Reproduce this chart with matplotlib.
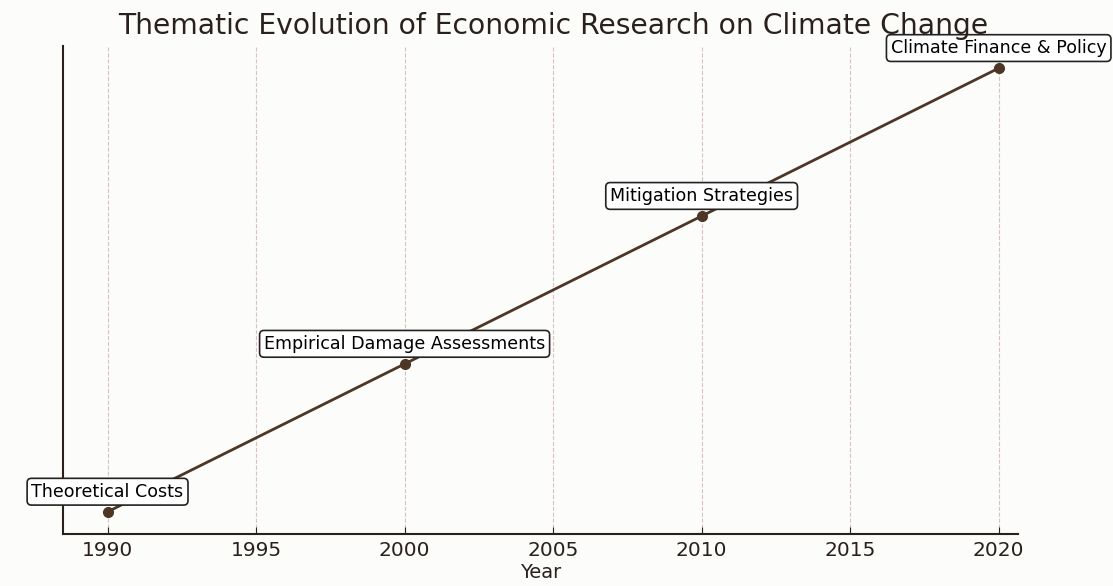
import matplotlib.pyplot as plt

years = [1990, 2000, 2010, 2020]
levels = [1, 2, 3, 4]
themes = ["Theoretical Costs", "Empirical Damage Assessments",
          "Mitigation Strategies", "Climate Finance & Policy"]
xticks = [1990, 1995, 2000, 2005, 2010, 2015, 2020]

line_color = '#4e3626'
text_color = '#2a211d'
bg = '#fcfcfb'

fig = plt.figure(figsize=(11.13, 5.86), dpi=100, facecolor=bg)
ax = fig.add_axes([63 / 1113, 52 / 586, (1018 - 63) / 1113, (534 - 46) / 586])
ax.set_facecolor(bg)

ax.plot(years, levels, color=line_color, linewidth=2, marker='o', markersize=7)

for x, y, t in zip(years, levels, themes):
    ax.annotate(t, (x, y), xytext=(0, 8), textcoords='offset points',
                ha='center', va='bottom', fontsize=12.6, color='black',
                bbox=dict(boxstyle='round,pad=0.25', facecolor='white',
                          edgecolor='#222222', linewidth=1.2))

ax.set_xlim(1988.5, 2020.65)
ax.set_ylim(0.85, 4.15)
ax.set_xticks(xticks)
ax.set_yticks([])
ax.tick_params(axis='x', direction='in', labelsize=14.5, colors=text_color, length=5, pad=5)
ax.grid(axis='x', linestyle='--', color='#d6c4c4', linewidth=0.8)
for s in ['top', 'right']:
    ax.spines[s].set_visible(False)
for s in ['left', 'bottom']:
    ax.spines[s].set_color(text_color)
    ax.spines[s].set_linewidth(1.5)

ax.set_xlabel("Year", fontsize=14, color=text_color, labelpad=2)
fig.suptitle("Thematic Evolution of Economic Research on Climate Change",
             fontsize=20.3, color=text_color, x=0.497, y=0.98)

fig.savefig('out.png', dpi=100, facecolor=bg)
